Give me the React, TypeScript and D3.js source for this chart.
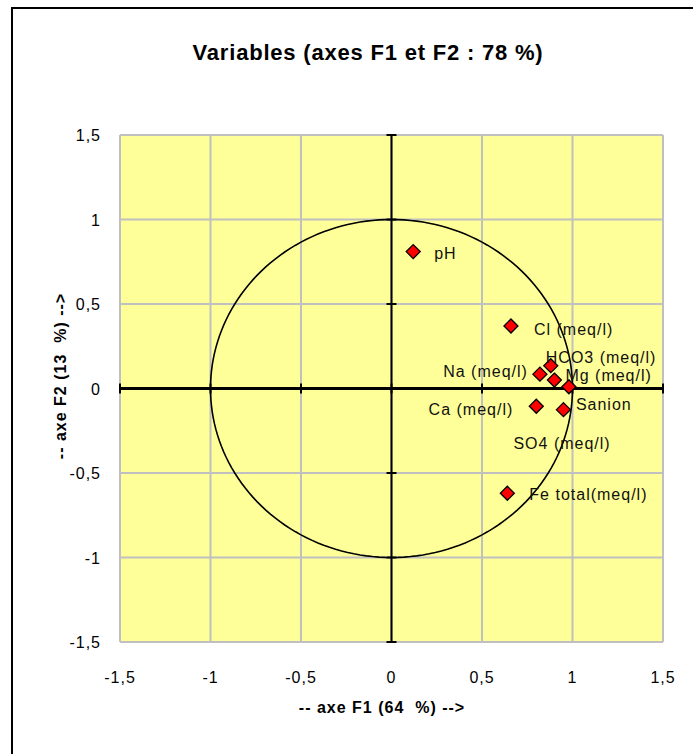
import React from "react";
import * as d3 from "d3";

const variableNames = ["pH", "Cl (meq/l)", "HCO3 (meq/l)", "Na (meq/l)", "Mg (meq/l)", "Sanion", "Ca (meq/l)", "SO4 (meq/l)", "Fe total(meq/l)"];
const f1Values = [0.12, 0.66, 0.88, 0.82, 0.9, 0.98, 0.8, 0.95, 0.64];
const f2Values = [0.81, 0.37, 0.135, 0.085, 0.05, 0.01, -0.105, -0.125, -0.62];
// label offsets (dx, dy, anchor) per variable
const labelDx = [21, 23, -5, -12, 11, 7, -23, -50, 22];
const labelDy = [7, 9, -3, 3, 1, 23, 9, 39, 7];
const labelAnchor = ["start", "start", "start", "end", "start", "start", "end", "start", "start"];
const tickValues = [-1.5, -1, -0.5, 0, 0.5, 1, 1.5];

const fmt = (v: number) => String(v).replace(".", ",");

export default function App() {
  const W = 693, H = 754;
  const x = d3.scaleLinear().domain([-1.5, 1.5]).range([120, 663]);
  const y = d3.scaleLinear().domain([-1.5, 1.5]).range([642, 135]);
  const font = "'Liberation Sans', Arial, sans-serif";
  const circlePts = d3.range(0, 361, 2).map((a) => [Math.cos((a * Math.PI) / 180), Math.sin((a * Math.PI) / 180)]);
  const circlePath = d3.line<number[]>().x((d) => x(d[0])).y((d) => y(d[1]))(circlePts) || "";
  const r = 7;
  const diamond = `M0,${-r}L${r},0L0,${r}L${-r},0Z`;
  return (
    <svg width={W} height={H} style={{ position: "absolute", left: 0, top: 0 }} fontFamily={font}>
      <rect x={0} y={0} width={W} height={H} fill="#fff" />
      <rect x={12} y={8} width={W + 20} height={H + 20} fill="#fff" stroke="#000" strokeWidth={2} />
      <text x={368} y={60} textAnchor="middle" fontSize={22} fontWeight="bold" letterSpacing={0.8}>
        Variables (axes F1 et F2 : 78 %)
      </text>
      <rect x={x(-1.5)} y={y(1.5)} width={x(1.5) - x(-1.5)} height={y(-1.5) - y(1.5)} fill="#FFFF99" />
      {tickValues.map((t) => (
        <g key={"g" + t}>
          <line x1={x(t)} x2={x(t)} y1={y(1.5)} y2={y(-1.5)} stroke="#C0C0C0" strokeWidth={2} />
          <line x1={x(-1.5)} x2={x(1.5)} y1={y(t)} y2={y(t)} stroke="#C0C0C0" strokeWidth={2} />
        </g>
      ))}
      <line x1={x(-1.5)} x2={x(1.5)} y1={y(0)} y2={y(0)} stroke="#000" strokeWidth={3} />
      <line x1={x(0)} x2={x(0)} y1={y(1.5)} y2={y(-1.5)} stroke="#000" strokeWidth={2} />
      {tickValues.map((t) => (
        <g key={"t" + t}>
          <line x1={x(t)} x2={x(t)} y1={y(0) - 5} y2={y(0) + 5} stroke="#000" strokeWidth={2} />
          <line x1={x(0) - 5} x2={x(0) + 5} y1={y(t)} y2={y(t)} stroke="#000" strokeWidth={2} />
        </g>
      ))}
      <path d={circlePath} fill="none" stroke="#000" strokeWidth={1.6} />
      {tickValues.map((t) => (
        <text key={"yl" + t} x={101} y={y(t) + 6} textAnchor="end" fontSize={16} letterSpacing={1}>
          {fmt(t)}
        </text>
      ))}
      {tickValues.map((t) => (
        <text key={"xl" + t} x={x(t)} y={683} textAnchor="middle" fontSize={16} letterSpacing={1}>
          {fmt(t)}
        </text>
      ))}
      <text x={382} y={713} textAnchor="middle" fontSize={16} fontWeight="bold" letterSpacing={1} xmlSpace="preserve">
        {"-- axe F1 (64  %) -->"}
      </text>
      <text transform={`translate(66,376) rotate(-90)`} textAnchor="middle" fontSize={16} fontWeight="bold" letterSpacing={1} xmlSpace="preserve">
        {"-- axe F2 (13  %) -->"}
      </text>
      {variableNames.map((n, i) => (
        <g key={n}>
          <path d={diamond} transform={`translate(${x(f1Values[i])},${y(f2Values[i])})`} fill="#FF0000" stroke="#000" strokeWidth={1.3} />
          <text x={x(f1Values[i]) + labelDx[i]} y={y(f2Values[i]) + labelDy[i]} textAnchor={labelAnchor[i]} fontSize={16} letterSpacing={1} fill="#111">
            {n}
          </text>
        </g>
      ))}
    </svg>
  );
}
